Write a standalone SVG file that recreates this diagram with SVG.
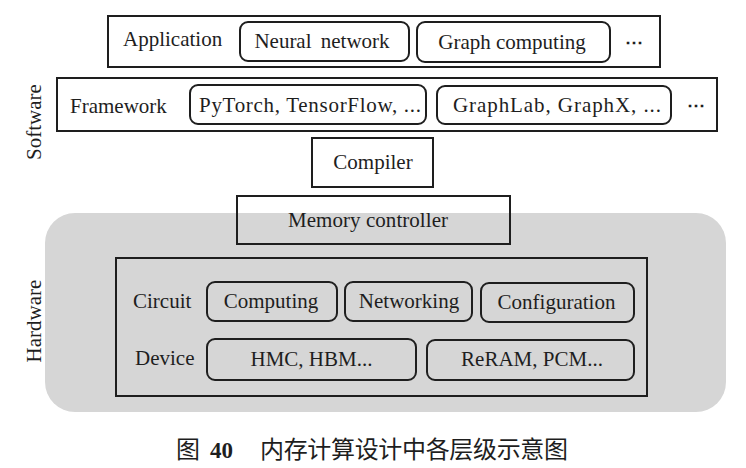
<svg xmlns="http://www.w3.org/2000/svg" width="746" height="468" viewBox="0 0 746 468">
<style>
.t{font-family:"Liberation Serif","Times New Roman",serif;font-size:21px;fill:#1e1e1e}
.c{text-anchor:middle}
.box{fill:none;stroke:#1e1e1e;stroke-width:2}
.wbox{fill:#fff;stroke:#1e1e1e;stroke-width:2}
.rbox{fill:none;stroke:#1e1e1e;stroke-width:2}
.dots{font-family:"DejaVu Serif",serif;font-size:18px;font-weight:bold;fill:#1e1e1e;text-anchor:middle}
.cap{font-family:"Noto Sans CJK SC","Noto Sans CJK JP",sans-serif;font-size:24px;fill:#1e1e1e}
</style>
<rect width="746" height="468" fill="#fff"/>
<g id="hardware-region">
<rect x="45" y="213" width="681" height="199" rx="30" fill="#d6d6d6"/>
<text class="t" transform="translate(41,321) rotate(-90)" text-anchor="middle">Hardware</text>
</g>
<g id="software-label">
<text class="t" transform="translate(41,122) rotate(-90)" text-anchor="middle">Software</text>
</g>
<g id="application">
<rect class="wbox" x="108" y="16" width="552" height="51"/>
<text class="t" x="123" y="46">Application</text>
<rect class="rbox" x="240" y="22" width="169" height="39" rx="8"/>
<text class="t c" x="322" y="48" word-spacing="4">Neural network</text>
<rect class="rbox" x="417" y="22" width="193" height="40" rx="8"/>
<text class="t c" x="512" y="49">Graph computing</text>
<text class="dots" x="634" y="48">⋯</text>
</g>
<g id="framework">
<rect class="wbox" x="57" y="78" width="660" height="53"/>
<text class="t" x="70" y="113">Framework</text>
<rect class="rbox" x="190" y="85" width="236" height="39" rx="8"/>
<text class="t" x="199" y="112" textLength="222">PyTorch, TensorFlow, ...</text>
<rect class="rbox" x="437" y="86" width="234" height="38" rx="8"/>
<text class="t" x="453" y="112" textLength="208">GraphLab, GraphX,  ...</text>
<text class="dots" x="696" y="111">⋯</text>
</g>
<g id="compiler">
<rect class="wbox" x="312" y="138" width="121" height="49"/>
<text class="t c" x="373" y="169">Compiler</text>
</g>
<g id="memory-controller">
<rect class="box" x="237" y="196" width="273" height="48"/>
<text class="t" x="288" y="227" textLength="160">Memory controller</text>
</g>
<g id="hardware-stack">
<rect class="box" x="116" y="258" width="531" height="138"/>
<text class="t" x="133" y="308">Circuit</text>
<text class="t" x="135" y="365">Device</text>
</g>
<g id="computing">
<rect class="rbox" x="207" y="282" width="130" height="39" rx="8"/>
<text class="t c" x="271" y="308">Computing</text>
</g>
<g id="networking">
<rect class="rbox" x="345" y="282" width="127" height="39" rx="8"/>
<text class="t c" x="409" y="308">Networking</text>
</g>
<g id="configuration">
<rect class="rbox" x="481" y="283" width="153" height="39" rx="8"/>
<text class="t c" x="556.5" y="309">Configuration</text>
</g>
<g id="hmc-hbm">
<rect class="rbox" x="207" y="339" width="209" height="41" rx="8"/>
<text class="t c" x="311.5" y="366">HMC, HBM...</text>
</g>
<g id="reram-pcm">
<rect class="rbox" x="427" y="340" width="207" height="40" rx="8"/>
<text class="t c" x="532" y="366">ReRAM, PCM...</text>
</g>
<g id="connectors"></g>
<g id="caption">
<text class="cap" x="176" y="458">图</text>
<text x="210" y="458" font-family="Liberation Serif,serif" font-weight="bold" font-size="23" fill="#1e1e1e">40</text>
<text class="cap" x="260" y="458" textLength="308">内存计算设计中各层级示意图</text>
</g>
</svg>
